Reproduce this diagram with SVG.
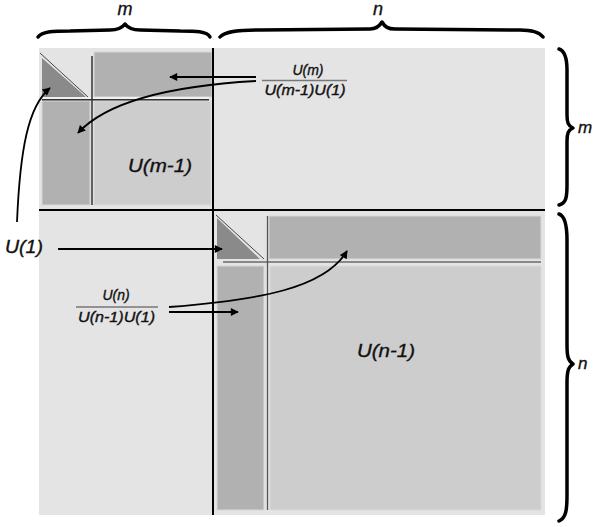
<svg xmlns="http://www.w3.org/2000/svg" width="599" height="527" viewBox="0 0 599 527">
<defs>
<marker id="ah" viewBox="0 0 10 10" refX="9" refY="5" markerWidth="10" markerHeight="8" markerUnits="userSpaceOnUse" orient="auto">
<path d="M0,0 L10,5 L0,10 Z" fill="#000"/>
</marker>
</defs>
<style>
.lbl{font-family:"Liberation Sans",Arial,sans-serif;font-style:italic;fill:#111;stroke:#111;stroke-width:0.35}
.mid{fill:#b1b1b1;stroke:#d8d8d8;stroke-width:1}
.big{fill:#cdcdcd;stroke:#dadada;stroke-width:1}
.tri{fill:#8a8a8a}
.thin{stroke:#333;stroke-width:1.5;fill:none}
.diag{stroke:#444;stroke-width:1;fill:none}
.arr{stroke:#000;stroke-width:1.8;fill:none;marker-end:url(#ah)}
.brace{stroke:#000;stroke-width:3.5;fill:none;stroke-linecap:round;stroke-linejoin:round}
.bar{stroke:#777;stroke-width:1.3}
</style>
<rect width="599" height="527" fill="#fff"/>
<g id="matrix">
<rect x="39" y="48" width="506" height="467" fill="#e4e4e4"/>
</g>
<g id="block-m">
<polygon class="tri" points="42,58 42,97 86,97"/>
<line class="diag" x1="40" y1="53" x2="88" y2="97"/>
<rect class="mid" x="94" y="52" width="118" height="45"/>
<rect class="mid" x="42" y="101" width="48" height="104"/>
<rect class="big" x="94" y="101" width="117" height="104"/>
<line x1="42" y1="98" x2="209" y2="98" stroke="#f4f4f4" stroke-width="1.5"/>
<line class="thin" x1="42" y1="99.7" x2="209" y2="99.7"/>
<line class="thin" x1="92" y1="56" x2="92" y2="205"/>
<text class="lbl" x="128" y="172" font-size="18" textLength="64" lengthAdjust="spacingAndGlyphs">U(m-1)</text>
</g>
<g id="block-n">
<polygon class="tri" points="217,218 217,259 260,259"/>
<line class="diag" x1="216" y1="215" x2="264" y2="259"/>
<rect class="mid" x="269" y="216" width="272" height="43"/>
<rect class="mid" x="217" y="266" width="47" height="244"/>
<rect class="big" x="270" y="266" width="271" height="244"/>
<line x1="223" y1="262" x2="541" y2="262" stroke="#6a6a6a" stroke-width="1.3"/>
<line x1="267.5" y1="216" x2="267.5" y2="510" stroke="#555" stroke-width="1.3"/>
<text class="lbl" x="357" y="357" font-size="18" textLength="58" lengthAdjust="spacingAndGlyphs">U(n-1)</text>
</g>
<g id="dividers">
<line x1="213" y1="48" x2="213" y2="515" stroke="#000" stroke-width="2"/>
<line x1="39" y1="210" x2="545" y2="210" stroke="#000" stroke-width="2"/>
</g>
<g id="frac-m">
<text class="lbl" x="308" y="75" font-size="14" text-anchor="middle">U(m)</text>
<line class="bar" x1="262" y1="80.5" x2="347" y2="80.5"/>
<text class="lbl" x="305" y="95" font-size="14" text-anchor="middle" textLength="81" lengthAdjust="spacingAndGlyphs">U(m-1)U(1)</text>
</g>
<g id="frac-n">
<text class="lbl" x="116" y="300" font-size="14" text-anchor="middle">U(n)</text>
<line class="bar" x1="76" y1="307" x2="158" y2="307"/>
<text class="lbl" x="116.5" y="322" font-size="14" text-anchor="middle" textLength="77" lengthAdjust="spacingAndGlyphs">U(n-1)U(1)</text>
</g>
<g id="label-u1">
<text class="lbl" x="5" y="253" font-size="18" textLength="38" lengthAdjust="spacingAndGlyphs">U(1)</text>
</g>
<g id="connectors">
<path class="arr" d="M256,77 L170,77"/>
<path class="arr" d="M256,81 C185,85 110,98 78,133"/>
<path class="arr" d="M17,222 C20,150 28,106 50,88"/>
<path class="arr" d="M58,249 L222,249"/>
<path class="arr" d="M169,312 L238,312"/>
<path class="arr" d="M169,307 C260,300 325,288 347,251"/>
</g>
<g id="braces">
<path class="brace" d="M38,37 C42,31 55,31 70,31 L110,30 C118,30 122,28 125,24 C128,28 132,30 140,30 L180,31 C195,31 207,31 210,37"/>
<path class="brace" d="M220,37 C225,31 240,30 260,30 L370,29 C376,29 379,27 382,22 C385,27 388,29 395,29 L520,30 C535,30 540,33 543,37"/>
<path class="brace" d="M559,49 C565,51 567,60 567,70 L567,115 C567,122 568,126 573,128 C568,130 567,134 567,141 L567,185 C567,198 566,203 559,205"/>
<path class="brace" d="M559,214 C565,216 567,228 567,240 L567,345 C567,356 568,361 573,364 C568,367 567,372 567,383 L567,495 C567,510 566,518 559,521"/>
<text class="lbl" x="125" y="15" font-size="18" text-anchor="middle">m</text>
<text class="lbl" x="378" y="15" font-size="18" text-anchor="middle">n</text>
<text class="lbl" x="578" y="133" font-size="17">m</text>
<text class="lbl" x="578" y="369" font-size="17">n</text>
</g>
</svg>
